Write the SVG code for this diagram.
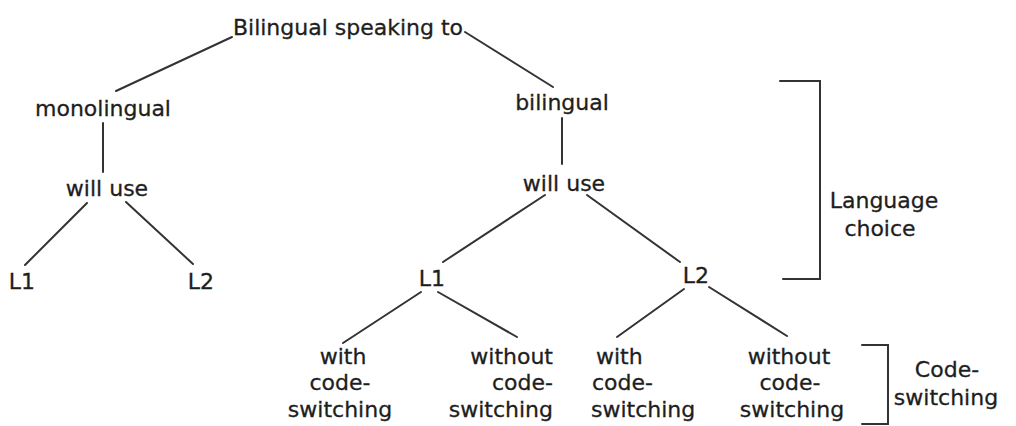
<svg xmlns="http://www.w3.org/2000/svg" width="1016" height="426" viewBox="0 0 1016 426">
  <style>
    .t { font-family: "DejaVu Sans", "Liberation Sans", sans-serif; font-size: 22px; fill: #1e1e1e; stroke: #1e1e1e; stroke-width: 0.3; }
    .c { text-anchor: middle; }
    .e { text-anchor: end; }
    .s { text-anchor: start; }
    .ln { stroke: #333; stroke-width: 2; fill: none; stroke-linecap: round; }
  </style>
  <rect width="1016" height="426" fill="#fff"/>

  <g id="connectors" class="ln">
    <line x1="232" y1="37" x2="116" y2="91"/>
    <line x1="465" y1="32" x2="553" y2="87"/>
    <line x1="103" y1="123" x2="103" y2="172"/>
    <line x1="87" y1="203" x2="25" y2="265"/>
    <line x1="126" y1="202" x2="193" y2="264"/>
    <line x1="562" y1="118" x2="562" y2="164"/>
    <line x1="545" y1="195" x2="443" y2="262"/>
    <line x1="587" y1="195" x2="680" y2="262"/>
    <line x1="421" y1="292" x2="343" y2="343"/>
    <line x1="438" y1="292" x2="517" y2="337"/>
    <line x1="684" y1="289" x2="617" y2="337"/>
    <line x1="709" y1="287" x2="787" y2="336"/>
  </g>

  <g id="root"><text class="t c" x="348" y="35">Bilingual speaking to</text></g>
  <g id="monolingual"><text class="t c" x="103" y="116">monolingual</text></g>
  <g id="mono-will-use"><text class="t c" x="107" y="196">will use</text></g>
  <g id="mono-l1"><text class="t c" x="22" y="289">L1</text></g>
  <g id="mono-l2"><text class="t c" x="201" y="289">L2</text></g>

  <g id="bilingual"><text class="t c" x="562" y="110">bilingual</text></g>
  <g id="bi-will-use"><text class="t c" x="564" y="191">will use</text></g>
  <g id="bi-l1"><text class="t c" x="432" y="286">L1</text></g>
  <g id="bi-l2"><text class="t c" x="696" y="283">L2</text></g>

  <g id="l1-with">
    <text class="t c" x="343" y="364">with</text>
    <text class="t c" x="340" y="390">code-</text>
    <text class="t c" x="340" y="417">switching</text>
  </g>
  <g id="l1-without">
    <text class="t e" x="553" y="364">without</text>
    <text class="t e" x="553" y="390">code-</text>
    <text class="t e" x="553" y="417">switching</text>
  </g>
  <g id="l2-with">
    <text class="t s" x="596" y="364">with</text>
    <text class="t s" x="592" y="390">code-</text>
    <text class="t s" x="591" y="417">switching</text>
  </g>
  <g id="l2-without">
    <text class="t c" x="789" y="364">without</text>
    <text class="t c" x="790" y="390">code-</text>
    <text class="t c" x="792" y="417">switching</text>
  </g>

  <g id="language-choice">
    <polyline class="ln" points="780,81 820,81 820,279 783,279"/>
    <text class="t c" x="884" y="208">Language</text>
    <text class="t c" x="880" y="236">choice</text>
  </g>
  <g id="code-switching">
    <polyline class="ln" points="862,345 888,345 888,424 862,424"/>
    <text class="t c" x="947" y="377">Code-</text>
    <text class="t c" x="946" y="405">switching</text>
  </g>
</svg>
